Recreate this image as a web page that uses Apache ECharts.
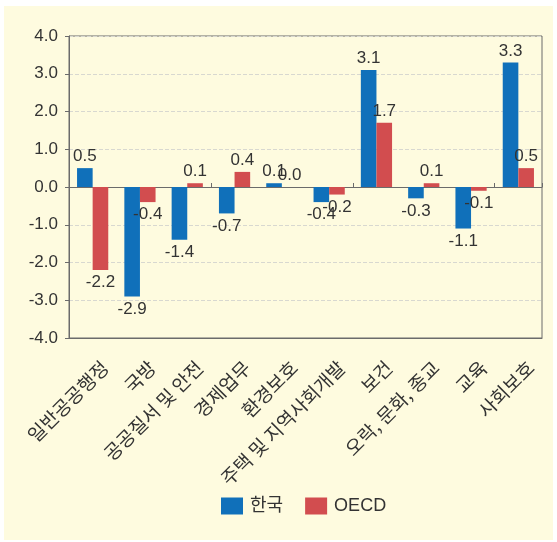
<!DOCTYPE html>
<html lang="ko">
<head>
    <meta charset="UTF-8">
    <title>한국 vs OECD</title>
    <script src="https://cdn.jsdelivr.net/npm/echarts@6/dist/echarts.min.js"></script>
    <style>
        body { margin: 0; background: #fff; }
        #main { position: absolute; left: 4px; top: 6px; width: 549px; height: 534px; background: #FEFBDF; }
    </style>
</head>
<body>
<div id="main"></div>
<script type="text/javascript">
    // 분야 (categories)
    var categories = ['일반공공행정', '국방', '공공질서 및 안전', '경제업무', '환경보호',
        '주택 및 지역사회개발', '보건', '오락, 문화, 종교', '교육', '사회보호'];
    // 한국
    var korea = [0.5, -2.9, -1.4, -0.7, 0.1, -0.4, 3.1, -0.3, -1.1, 3.3];
    // OECD
    var oecd = [-2.2, -0.4, 0.1, 0.4, 0.0, -0.2, 1.7, 0.1, -0.1, 0.5];

    var font = 'Liberation Sans, Arial, Noto Sans CJK KR, sans-serif';

    // 양수는 위, 음수는 아래에 라벨
    function toItems(arr) {
        return arr.map(function (v) {
            return {value: v, label: {position: v < 0 ? 'bottom' : 'top', distance: v < 0 ? 4 : 3}};
        });
    }

    var myChart = echarts.init(document.getElementById('main'));
    myChart.setOption({
        textStyle: {fontFamily: font},
        grid: {
            left: 65, right: 11, top: 30, bottom: 202,
            show: true, borderColor: '#6b6b6b', borderWidth: 1
        },
        legend: {
            top: 491,
            left: 217,
            padding: 0,
            itemWidth: 22,
            itemHeight: 17,
            itemGap: 22,
            icon: 'rect',
            textStyle: {fontSize: 18, color: '#333', fontFamily: font, padding: [0, 0, 0, 2]},
            data: ['한국', 'OECD']
        },
        xAxis: [
            {   // 아래쪽 라벨용
                type: 'category',
                data: categories,
                position: 'bottom',
                axisLine: {onZero: false, lineStyle: {color: '#6b6b6b'}},
                axisTick: {show: false},
                axisLabel: {
                    rotate: 45,
                    interval: 0,
                    fontSize: 19,
                    color: '#333',
                    margin: 14,
                    verticalAlign: 'top',
                    padding: [8, 0, 0, 0],
                    fontFamily: 'Noto Sans CJK KR, sans-serif'
                }
            },
            {   // 0 기준선
                type: 'category',
                data: categories,
                position: 'bottom',
                axisLine: {onZero: true, lineStyle: {color: '#6b6b6b'}},
                axisTick: {show: true, inside: true, length: 4, lineStyle: {color: '#6b6b6b'}},
                axisLabel: {show: false}
            }
        ],
        yAxis: {
            type: 'value',
            min: -4,
            max: 4,
            interval: 1,
            axisLine: {show: true, lineStyle: {color: '#6b6b6b'}},
            axisTick: {show: true, length: 4, lineStyle: {color: '#6b6b6b'}},
            axisLabel: {
                fontSize: 17,
                color: '#333',
                margin: 11,
                formatter: function (v) { return v.toFixed(1); }
            },
            splitLine: {lineStyle: {color: '#d8d8d0', type: 'dashed'}}
        },
        series: [
            {
                name: '한국',
                type: 'bar',
                xAxisIndex: 0,
                barWidth: '33%',
                barGap: '0%',
                itemStyle: {color: '#1070BA'},
                label: {
                    show: true, fontSize: 17, color: '#333',
                    formatter: function (p) { return p.value.toFixed(1); }
                },
                data: toItems(korea)
            },
            {
                name: 'OECD',
                type: 'bar',
                xAxisIndex: 0,
                barWidth: '33%',
                barGap: '0%',
                itemStyle: {color: '#D24D4F'},
                label: {
                    show: true, fontSize: 17, color: '#333',
                    formatter: function (p) { return p.value.toFixed(1); }
                },
                data: toItems(oecd)
            }
        ]
    });
</script>
</body>
</html>
